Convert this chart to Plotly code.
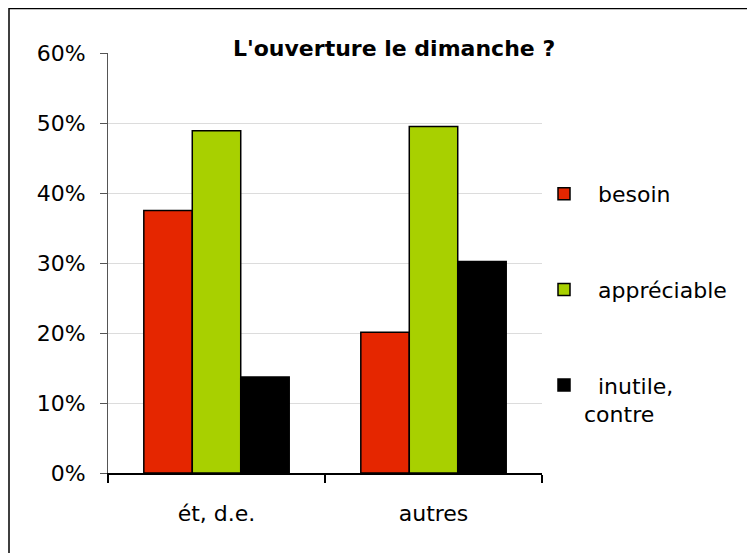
import plotly.graph_objects as go

categories = ["ét, d.e.", "autres"]
series_names = ["besoin", "appréciable", "inutile,<br>contre"]
besoin = [0.375, 0.201]
appreciable = [0.489, 0.495]
inutile = [0.137, 0.302]
series_values = [besoin, appreciable, inutile]
colors = ["#E52600", "#A8D000", "#000000"]
y_ticks = [0, 0.1, 0.2, 0.3, 0.4, 0.5, 0.6]
y_tick_labels = ["0%", "10%", "20%", "30%", "40%", "50%", "60%"]
title_text = "L'ouverture le dimanche ?"

FONT = "DejaVu Sans, Liberation Sans, Arial, sans-serif"
W, H = 747, 545
L, R, T, B = 100, 213, 45, 80
pw, ph = W - L - R, H - T - B

fig = go.Figure()
for i, (name, vals, c) in enumerate(zip(series_names, series_values, colors)):
    label = "\u00a0\u00a0" + name
    fig.add_trace(go.Bar(
        x=categories, y=vals, name=label,
        marker=dict(color=c, line=dict(color="#000000", width=1.5)),
        legendgroup=f"g{i}",
    ))

def px_x(px):
    return (px - L) / pw

def px_y(py):
    return (H - B - py) / ph

fig.update_layout(
    width=W, height=H,
    margin=dict(l=L, r=R, t=T, b=B),
    paper_bgcolor="white", plot_bgcolor="white",
    barmode="group", bargap=0.33, bargroupgap=0,
    font=dict(family=FONT, size=22, color="#000000"),
    showlegend=True,
    legend=dict(
        x=px_x(536), y=px_y(165), xanchor="left", yanchor="top",
        font=dict(size=22), tracegroupgap=64, valign="top",
        bgcolor="rgba(0,0,0,0)",
    ),
    xaxis=dict(
        type="category", range=[-0.5, 1.5],
        showline=True, linecolor="#000000", linewidth=1.5,
        ticks="outside", ticklen=8, tickcolor="#000000", tickwidth=1.5,
        tickson="boundaries", showgrid=False,
        ticklabelstandoff=20,
        tickfont=dict(size=22),
    ),
    yaxis=dict(
        range=[0, 0.6], tickvals=y_ticks, ticktext=y_tick_labels,
        showline=True, linecolor="#555555", linewidth=1,
        ticks="outside", ticklen=7, tickcolor="#555555",
        showgrid=True, gridcolor="#dcdcdc", gridwidth=1,
        zeroline=False, ticklabelstandoff=10,
        tickfont=dict(size=22),
    ),
    annotations=[dict(
        text="<b>" + title_text + "</b>", xref="paper", yref="paper",
        x=px_x(386), y=px_y(40), xanchor="center", yanchor="middle",
        showarrow=False, bgcolor="white", borderpad=3,
        font=dict(size=22, family=FONT, color="#000000"),
    )],
    shapes=[dict(
        type="rect", xref="paper", yref="paper",
        x0=px_x(1), x1=px_x(800), y0=px_y(700), y1=px_y(0.5),
        line=dict(color="#000000", width=1.5), layer="above",
    )],
)

fig.write_html("out.html")
